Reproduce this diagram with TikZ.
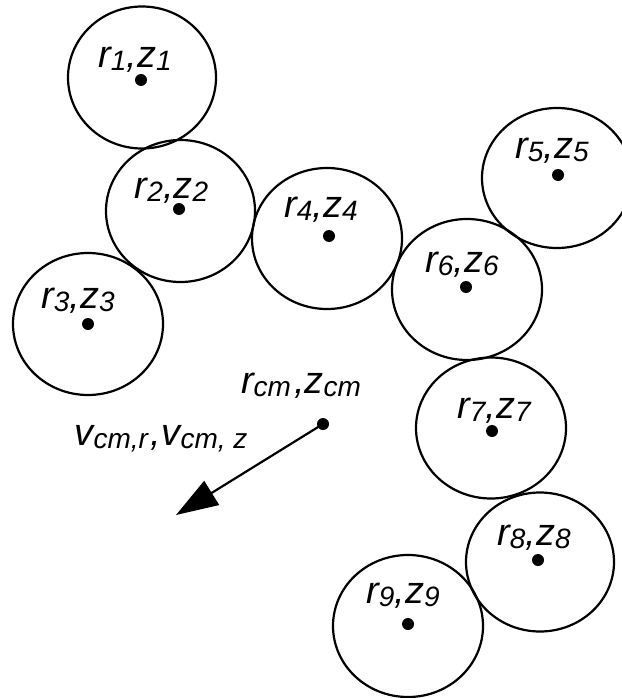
\documentclass[tikz,border=0pt]{standalone}
\usepackage{fontspec}
\setmainfont{Liberation Sans}
\usetikzlibrary{arrows.meta}
\newcommand{\mysub}[1]{\raisebox{-3pt}{\fontsize{28}{28}\selectfont #1}}
\newcommand{\rzlab}[1]{r\mysub{#1},z\mysub{#1}}
\tikzset{
  ball/.style={draw=black, line width=2.2pt},
  cdot/.style={circle, fill=black, inner sep=0pt, minimum size=12pt},
  lab/.style={anchor=base, inner sep=0pt, font=\fontsize{38}{38}\selectfont\itshape},
  vel/.style={line width=2.2pt, -{Triangle[length=42pt, width=28pt]}}
}
\begin{document}
\begin{tikzpicture}[x=1pt, y=-1pt]
\useasboundingbox (0,0) rectangle (621,698);
% balls
\draw[ball] (142,77.5) ellipse [x radius=74, y radius=71];
\draw[ball] (180.5,211) ellipse [x radius=74.5, y radius=71];
\draw[ball] (88,324) ellipse [x radius=75, y radius=71];
\draw[ball] (327,238.5) ellipse [x radius=75, y radius=70.5];
\draw[ball] (557,178) ellipse [x radius=75, y radius=70];
\draw[ball] (467,289.5) ellipse [x radius=75, y radius=70.5];
\draw[ball] (491,428) ellipse [x radius=75, y radius=70.5];
\draw[ball] (540,562) ellipse [x radius=74, y radius=69.5];
\draw[ball] (408,626) ellipse [x radius=75, y radius=71];
% centre dots
\node[cdot] (d1) at (141,80) {};
\node[cdot] (d2) at (179,209) {};
\node[cdot] (d3) at (88,324) {};
\node[cdot] (d4) at (329,236) {};
\node[cdot] (d5) at (558,175) {};
\node[cdot] (d6) at (466,287) {};
\node[cdot] (d7) at (492,431) {};
\node[cdot] (d8) at (538,560) {};
\node[cdot] (d9) at (408,624) {};
\node[cdot] (dcm) at (323,424) {};
% labels
\node[lab] (l1) at (135,68) {\rzlab{1}};
\node[lab] (l2) at (171.5,198) {\rzlab{2}};
\node[lab] (l3) at (78,308) {\rzlab{3}};
\node[lab] (l4) at (321,217) {\rzlab{4}};
\node[lab] (l5) at (552,158) {\rzlab{5}};
\node[lab] (l6) at (462,272) {\rzlab{6}};
\node[lab] (l7) at (494,418) {\rzlab{7}};
\node[lab] (l8) at (534,545) {\rzlab{8}};
\node[lab] (l9) at (403,603) {\rzlab{9}};
\node[lab] (lcm) at (301,393) {r\mysub{cm}\hspace{3pt},z\mysub{cm}};
\node[lab] (lv) at (161,445) {v\mysub{cm,r}\hspace{3pt},v\mysub{cm, z}};
% velocity arrow
\coordinate (tip) at (176,515);
\draw[vel] (dcm.center) -- (tip);
\end{tikzpicture}
\end{document}
